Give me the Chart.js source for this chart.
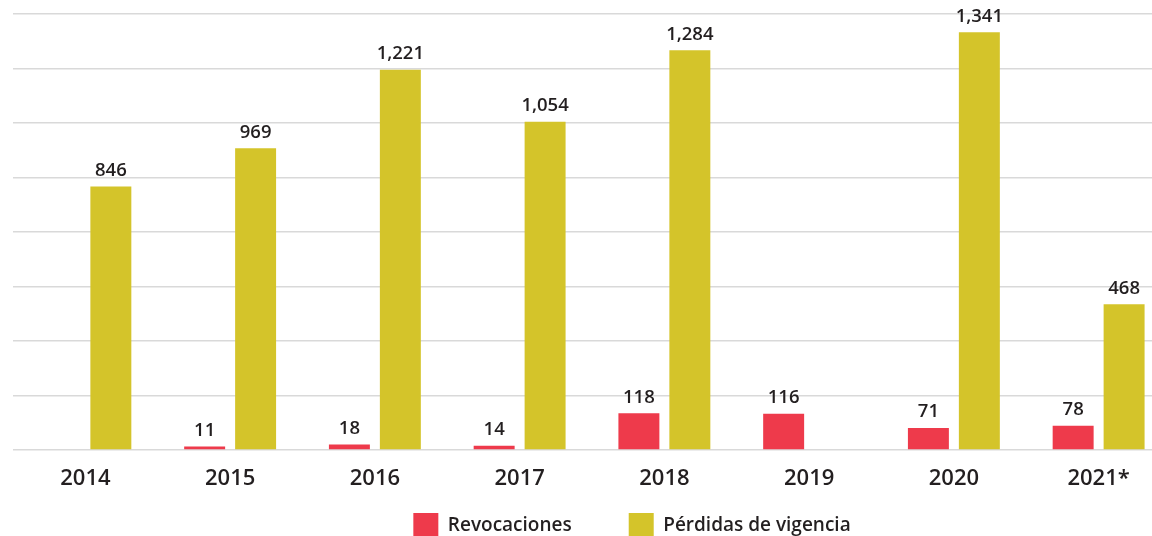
<!DOCTYPE html>
<html>
<head>
<meta charset="utf-8">
<script src="https://cdn.jsdelivr.net/npm/chart.js@4.4.1/dist/chart.umd.min.js"></script>
<style>
  html, body { margin: 0; padding: 0; background: #fff; overflow: hidden; }
  #wrap { position: relative; width: 1251px; height: 548px; }
</style>
</head>
<body>
<div id="wrap"><canvas id="grafica"></canvas></div>
<script>
// datos
const anios = ["2014", "2015", "2016", "2017", "2018", "2019", "2020", "2021*"];
const revocaciones = [null, 11, 18, 14, 118, 116, 71, 78];
const perdidasVigencia = [846, 969, 1221, 1054, 1284, null, 1341, 468];
const etiquetasSeries = ["Revocaciones", "Pérdidas de vigencia"];

const colorRojo = "#ee3a4b";
const colorAmarillo = "#d4c42a";
const colorTexto = "#231f20";
const fuente = "'Open Sans', Lato, sans-serif";

// dibuja el valor encima de cada barra
const etiquetasValores = {
  id: "etiquetasValores",
  afterDatasetsDraw(chart) {
    const ctx = chart.ctx;
    ctx.save();
    ctx.font = "600 18.5px " + fuente;
    ctx.fillStyle = colorTexto;
    ctx.textAlign = "center";
    ctx.textBaseline = "alphabetic";
    chart.data.datasets.forEach((ds, i) => {
      chart.getDatasetMeta(i).data.forEach((barra, j) => {
        const v = ds.data[j];
        if (v == null) return;
        ctx.fillText(v.toLocaleString("en-US"), barra.x, barra.y - 10.5);
      });
    });
    ctx.restore();
  }
};

const config = {
  type: "bar",
  data: {
    labels: anios,
    datasets: [
      {
        label: etiquetasSeries[0],
        data: revocaciones,
        backgroundColor: colorRojo,
        categoryPercentage: 0.704,
        barPercentage: 0.804
      },
      {
        label: etiquetasSeries[1],
        data: perdidasVigencia,
        backgroundColor: colorAmarillo,
        categoryPercentage: 0.704,
        barPercentage: 0.804
      }
    ]
  },
  options: {
    responsive: true,
    maintainAspectRatio: false,
    animation: false,
    layout: { padding: { left: 13, right: 0, top: 14, bottom: 0 } },
    plugins: {
      tooltip: { enabled: false },
      legend: {
        position: "bottom",
        labels: {
          boxWidth: 25,
          boxHeight: 25,
          padding: 57,
          color: colorTexto,
          font: { family: fuente, size: 19, weight: "600" }
        }
      }
    },
    scales: {
      x: {
        grid: { display: false },
        border: { display: false },
        // eje bajo para dejar espacio a la leyenda; mirror evita el recorte de etiquetas
        afterFit(escala) { escala.height = 6; },
        ticks: {
          mirror: true,
          color: colorTexto,
          padding: -42,
          font: { family: fuente, size: 22, weight: "600" }
        }
      },
      y: {
        position: "right",
        min: 0,
        max: 1400,
        afterFit(escala) { escala.width = 80; },
        ticks: { display: false, stepSize: 175 },
        border: { display: false },
        grid: { color: "#d9d9d9", lineWidth: 1.5, drawTicks: false }
      }
    }
  },
  plugins: [etiquetasValores]
};

new Chart(document.getElementById("grafica"), config);
</script>
</body>
</html>
